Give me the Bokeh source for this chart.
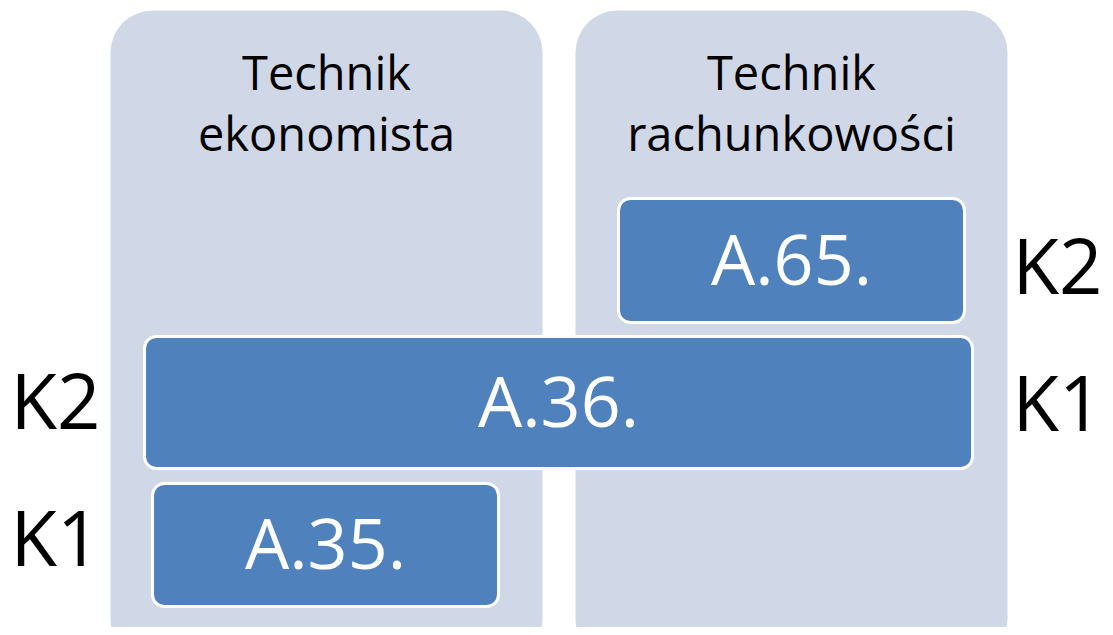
from bokeh.plotting import figure
from bokeh.models import Range1d, ColumnDataSource
from bokeh.core.properties import value
from bokeh.embed import file_html
from bokeh.resources import INLINE

# --- content ---
columns = ["Technik\nekonomista", "Technik\nrachunkowości"]
modules = ["A.65.", "A.36.", "A.35."]
left_levels = ["K2", "K1"]
right_levels = ["K2", "K1"]

# --- layout (pixel-space diagram coordinates) ---
col_left = [110, 575]
col_right = [542, 1007]
col_top = [10, 10]
col_bottom = [660, 660]
col_text_x = [326, 791]
col_text_y = [102, 102]

mod_left = [618, 144, 152]
mod_right = [964, 972, 498]
mod_top = [198, 336, 483]
mod_bottom = [322, 468, 606]

left_lvl_x = [55, 55]
left_lvl_y = [399, 536]
right_lvl_x = [1057, 1057]
right_lvl_y = [264, 401]

p = figure(width=1105, height=627, output_backend="svg", toolbar_location=None,
           x_range=Range1d(0, 1105), y_range=Range1d(627, 0))
p.axis.visible = False
p.grid.visible = False
p.outline_line_color = None
p.min_border = 0
p.background_fill_color = "white"
p.border_fill_color = "white"

csrc = ColumnDataSource(dict(left=col_left, right=col_right, top=col_top, bottom=col_bottom,
                             tx=col_text_x, ty=col_text_y, label=columns))
p.quad(left="left", right="right", top="top", bottom="bottom", source=csrc,
       fill_color="#D0D8E8", line_color=None, border_radius=42)
p.text(x="tx", y="ty", text="label", source=csrc, text_align="center", text_baseline="middle",
       text_font=value("Open Sans"), text_font_size="47px", text_color="black", text_line_height=0.94)

msrc = ColumnDataSource(dict(left=mod_left, right=mod_right, top=mod_top, bottom=mod_bottom,
                             label=modules,
                             tx=[(a + b) / 2 for a, b in zip(mod_left, mod_right)],
                             ty=[(a + b) / 2 - 3 for a, b in zip(mod_top, mod_bottom)]))
p.quad(left="left", right="right", top="top", bottom="bottom", source=msrc,
       fill_color="#4F81BD", line_color="white", line_width=3, border_radius=12)
p.text(x="tx", y="ty", text="label", source=msrc, text_align="center", text_baseline="middle",
       text_font=value("Open Sans"), text_font_size="70px", text_color="white")

p.text(x=left_lvl_x, y=left_lvl_y, text=left_levels, text_align="center", text_baseline="middle",
       text_font=value("Open Sans"), text_font_size="76px", text_color="black")
p.text(x=right_lvl_x, y=right_lvl_y, text=right_levels, text_align="center", text_baseline="middle",
       text_font=value("Open Sans"), text_font_size="76px", text_color="black")

open("out.html", "w").write(file_html(p, INLINE))
